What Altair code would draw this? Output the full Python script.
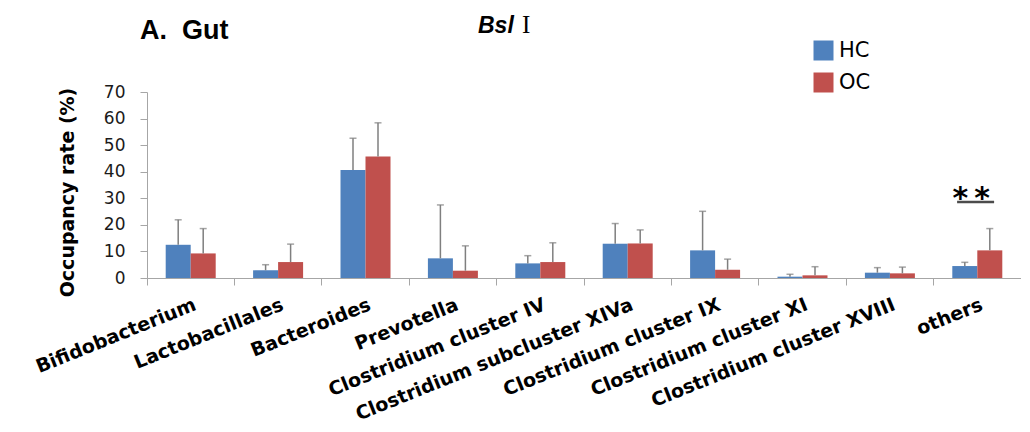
import altair as alt
import pandas as pd

categories = ["Bifidobacterium", "Lactobacillales", "Bacteroides", "Prevotella",
              "Clostridium cluster IV", "Clostridium subcluster XIVa",
              "Clostridium cluster IX", "Clostridium cluster XI",
              "Clostridium cluster XVIII", "others"]
groups = ["HC", "OC"]
hc_mean = [12.5, 2.9, 40.6, 7.4, 5.5, 12.9, 10.4, 0.5, 2.0, 4.5]
hc_sd = [9.4, 2.1, 12.0, 20.1, 2.9, 7.6, 14.7, 0.9, 1.9, 1.4]
oc_mean = [9.25, 6.0, 45.75, 2.75, 6.0, 13.0, 3.1, 1.0, 1.75, 10.4]
oc_sd = [9.35, 6.75, 12.65, 9.35, 7.25, 5.1, 4.0, 3.25, 2.35, 8.2]
y_ticks = [0, 10, 20, 30, 40, 50, 60, 70]
colors = ["#4F81BD", "#C0504D"]
sig_category = "others"
sig_label = "*\u2009*"
sig_y = 26.3
sig_line_y = 28.6

rows = []
for i, c in enumerate(categories):
    rows.append({"cat": c, "group": "HC", "value": hc_mean[i], "upper": hc_mean[i] + hc_sd[i]})
    rows.append({"cat": c, "group": "OC", "value": oc_mean[i], "upper": oc_mean[i] + oc_sd[i]})
df = pd.DataFrame(rows)
sig_df = pd.DataFrame({"cat": [sig_category], "y": [sig_y], "yl": [sig_line_y], "t": [sig_label]})
one = pd.DataFrame({"k": [0]})

W = 874
H = 186

xaxis = alt.Axis(title=None, labelAngle=-22, labelAlign="right", labelBaseline="top",
                 labelFontSize=19, labelFont="DejaVu Sans", labelFontWeight="bold",
                 labelColor="black", bandPosition=0, labelOffset=1,
                 labelPadding=10, labelLimit=500, tickSize=7,
                 domainColor="#a6a6a6", tickColor="#a6a6a6", labelOverlap=False)
xscale = alt.Scale(paddingInner=0, paddingOuter=0)
yscale = alt.Scale(domain=[0, 70], nice=False)
yaxis = alt.Axis(values=y_ticks, tickCount=8, grid=False, domainColor="#a6a6a6",
                 tickColor="#a6a6a6", tickSize=7, labelFontSize=17, labelFont="DejaVu Sans",
                 labelColor="#1a1a1a", labelPadding=15, labelOverlap=False,
                 title="Occupancy rate (%)",
                 titleFont="DejaVu Sans", titleFontSize=19, titleFontWeight="bold",
                 titleColor="black", titleAngle=-90, titleX=-80, titleY=100,
                 titleAlign="center", titleBaseline="middle")


def X():
    return alt.X("cat:N", sort=categories, scale=xscale, axis=xaxis)


def Y(field):
    return alt.Y(field, scale=yscale, axis=yaxis)


xoff = alt.XOffset("group:N", sort=groups, scale=alt.Scale(paddingOuter=0.748, paddingInner=0))

bars = alt.Chart(df).mark_bar().encode(
    x=X(),
    xOffset=xoff,
    y=Y("value:Q"),
    color=alt.Color("group:N", sort=groups, scale=alt.Scale(domain=groups, range=colors),
                    legend=alt.Legend(orient="none", legendX=666, legendY=-52, title=None,
                                      symbolType="square", symbolSize=400, labelFontSize=21,
                                      labelFont="DejaVu Sans", labelColor="black", rowPadding=10,
                                      symbolStrokeWidth=0, labelOffset=5, padding=0,
                                      symbolOpacity=1)),
)

err = alt.Chart(df).mark_rule(color="#7f7f7f", strokeWidth=1.5).encode(
    x=X(), xOffset=xoff, y=Y("value:Q"), y2="upper:Q")

caps = alt.Chart(df).mark_tick(color="#7f7f7f", thickness=1.5, size=7).encode(
    x=X(), xOffset=xoff, y=Y("upper:Q"))

stars = alt.Chart(sig_df).mark_text(fontSize=30, fontWeight="bold", font="DejaVu Sans",
                                    dx=-6, baseline="alphabetic", color="black").encode(
    x=X(), y=Y("y:Q"), text="t:N")

underline = alt.Chart(sig_df).mark_tick(color="black", thickness=2.5, size=37).encode(
    x=X(), xOffset=alt.value(42), y=Y("yl:Q"))

title_a = alt.Chart(one).mark_text(text="A.\u00a0 Gut", font="Liberation Sans", fontWeight="bold",
                                   fontSize=27, align="left", baseline="alphabetic",
                                   color="black").encode(x=alt.value(-7), y=alt.value(-53))
title_b = alt.Chart(one).mark_text(text="Bsl", font="Liberation Sans", fontWeight="bold",
                                   fontStyle="italic", fontSize=23, align="left",
                                   baseline="alphabetic", color="black").encode(
    x=alt.value(331), y=alt.value(-59))
title_c = alt.Chart(one).mark_text(text="I", font="Liberation Serif", fontSize=25, align="left",
                                   baseline="alphabetic", color="black").encode(
    x=alt.value(375), y=alt.value(-59))

chart = alt.layer(bars, err, caps, stars, underline, title_a, title_b, title_c).properties(
    width=W, height=H,
    padding={"left": 139, "top": 84, "right": 0, "bottom": 146},
    autosize=alt.AutoSizeParams(type="none"),
).configure_view(stroke=None)

chart.save("out.html", embed_options={"renderer": "svg", "actions": False})
